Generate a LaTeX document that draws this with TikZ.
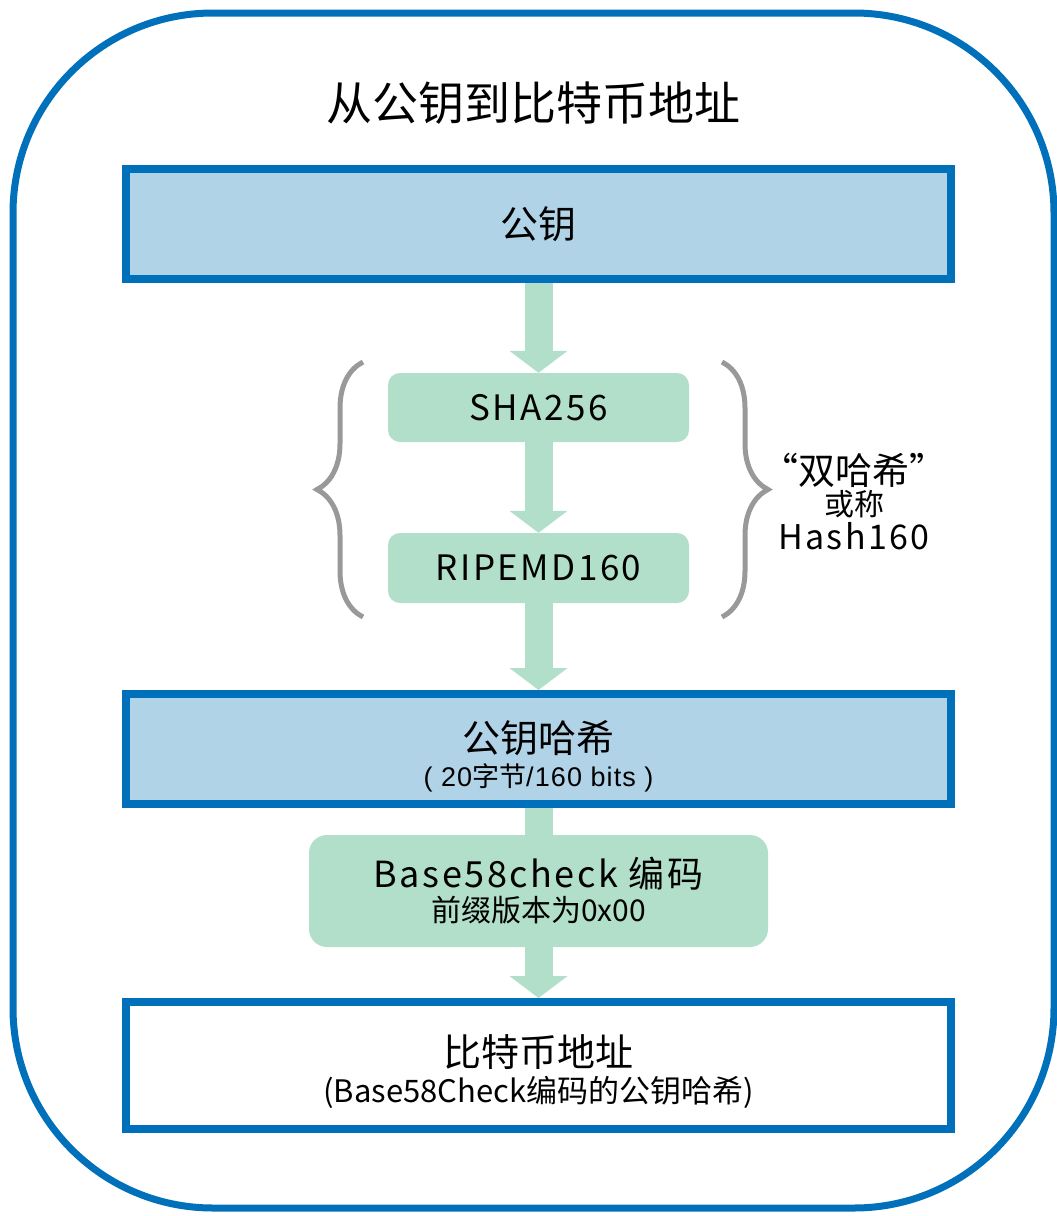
\documentclass[tikz,border=0pt]{standalone}
\usepackage{fontspec}
\setmainfont{Noto Sans CJK SC}
\newfontfamily\wide[LetterSpace=7]{Noto Sans CJK SC}
\newfontfamily\arial[LetterSpace=4]{Liberation Sans}
\usetikzlibrary{arrows.meta}
\usetikzlibrary{decorations.pathreplacing}
\definecolor{rim}{RGB}{0,112,186}
\definecolor{sky}{RGB}{177,211,232}
\definecolor{mint}{RGB}{178,223,202}
\definecolor{brc}{RGB}{153,153,153}
\tikzset{big/.style={font=\fontsize{38}{44}\selectfont}}
\tikzset{bx/.style={draw=rim,line width=8pt,minimum width=825pt,inner sep=0pt,align=center}}
\tikzset{proc/.style={fill=mint,rounded corners=12pt,inner sep=0pt,align=center}}
\tikzset{flow/.style={draw=mint,line width=28pt,>={Triangle[width=57pt,length=22pt]}}}
\tikzset{brc/.style={draw=brc,line width=5pt,decorate,decoration={brace,amplitude=46pt}}}

\begin{document}
\begin{tikzpicture}[x=1pt,y=-1pt]
          \useasboundingbox (0,0) rectangle (1057,1216);
          \draw[rim,line width=7pt,rounded corners=200pt] (13,13) rectangle (1054,1208);
          \node (ttl) at (533,103) {\fontsize{46}{50}\selectfont 从公钥到比特币地址};
          \node (pk) [bx,fill=sky,minimum height=110pt,big] at (538.5,224) {公钥};
          \node (sha) [proc,minimum width=301pt,minimum height=69pt,font=\fontsize{35}{40}\wide] at (538.5,407.5) {SHA256}
            edge [flow,<-] (pk);
          \node (rip) [proc,minimum width=301pt,minimum height=70pt,font=\fontsize{35}{40}\wide] at (538.5,568) {RIPEMD160}
            edge [flow,<-] (sha);
          \node (hash) [bx,fill=sky,minimum height=110pt,font=\fontsize{27}{34}\selectfont] at (538.5,749)
            {{\fontsize{38}{44}\selectfont\rule{0pt}{46pt}公钥哈希}\\{\arial ( 20}字节{\arial /160 bits )}}
            edge [flow,<-] (rip);
          \node (b58) [proc,rounded corners=18pt,minimum width=459pt,minimum height=112pt,font=\fontsize{30}{34}\selectfont] at (538.5,891)
            {{\fontsize{36}{40}\wide Base58check 编码}\\前缀版本为0x00}
            edge [flow] (hash);
          \node (addr) [bx,fill=white,minimum height=127pt,font=\fontsize{31}{36}\selectfont] at (538.5,1065.5)
            {{\fontsize{38}{44}\selectfont\rule{0pt}{45pt}比特币地址}\\(Base58Check编码的公钥哈希)}
            edge [flow,<-] (b58);
          % braces round the two hashes
          \coordinate (lbb) at (363,617);
          \coordinate (lbt) at (363,362);
          \coordinate (rbt) at (722,362);
          \coordinate (rbb) at (722,617);
          \draw[brc] (lbb) -- (lbt);
          \draw[brc] (rbt) -- (rbb);
          \node (dbl) [align=center,font=\fontsize{30}{31}\selectfont] at (854,502)
            {{\fontsize{37}{38}\selectfont “双哈希”}\\或称\\[3pt]{\fontsize{34}{38}\wide Hash160}};
        \end{tikzpicture}
\end{document}
